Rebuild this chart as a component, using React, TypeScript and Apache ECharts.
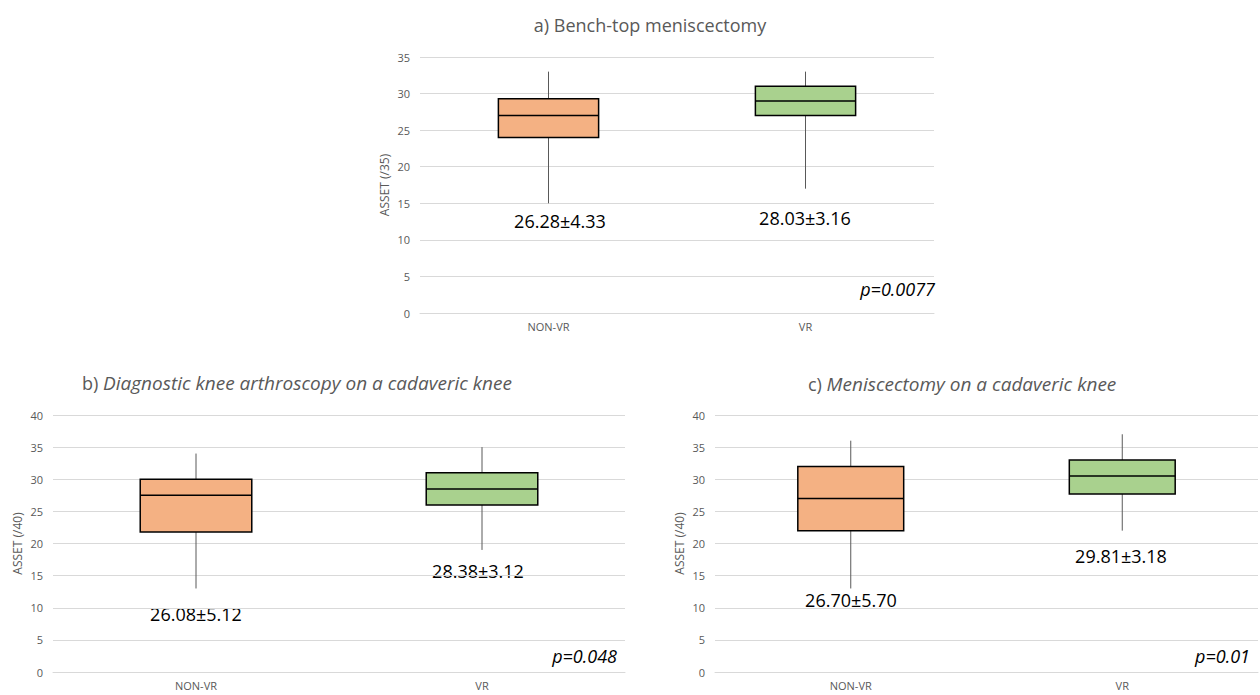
import React, { useEffect, useRef } from "react";
import * as echarts from "echarts";

const categories = ["NON-VR", "VR"];
// [min, q1, median, q3, max]
const boxA = [
  [15, 24, 27, 29.3, 33],
  [17, 27, 29, 31, 33],
];
const boxB = [
  [13, 21.8, 27.5, 30, 34],
  [19, 26, 28.5, 31, 35],
];
const boxC = [
  [13, 22, 27, 32, 36],
  [22, 27.7, 30.5, 33, 37],
];
const meanA = [26.28, 28.03];
const sdA = [4.33, 3.16];
const meanB = [26.08, 28.38];
const sdB = [5.12, 3.12];
const meanC = [26.7, 29.81];
const sdC = [5.7, 3.18];
const pValues = ["p=0.0077", "p=0.048", "p=0.01"];
const yMax = [35, 40, 40];
const yNames = ["ASSET (/35)", "ASSET (/40)", "ASSET (/40)"];
const boxColors = ["#F4B183", "#A9D18E"];

const FONT = "'Open Sans', 'Noto Sans', sans-serif";
const GRAY = "#595959";

function fmt(m: number, s: number) {
  return m.toFixed(2) + "±" + s.toFixed(2);
}

export default function App() {
  const ref = useRef<HTMLDivElement>(null);
  useEffect(() => {
    if (!ref.current) return;
    const chart = echarts.init(ref.current, undefined, { renderer: "svg" });
    const grids = [
      { left: 420, top: 57, width: 514, height: 256 },
      { left: 53, top: 415, width: 572, height: 257 },
      { left: 715, top: 415, width: 543, height: 257 },
    ];
    const nameGaps = [30, 30, 30];
    const boxes = [boxA, boxB, boxC];

    const renderItem = (params: any, api: any) => {
      const x = api.value(0);
      const lo = api.coord([x, api.value(1)]);
      const q1 = api.coord([x, api.value(2)]);
      const med = api.coord([x, api.value(3)]);
      const q3 = api.coord([x, api.value(4)]);
      const hi = api.coord([x, api.value(5)]);
      const w = api.size([1, 0])[0] * 0.39;
      return {
        type: "group",
        children: [
          {
            type: "line",
            shape: { x1: lo[0], y1: lo[1], x2: hi[0], y2: hi[1] },
            style: { stroke: GRAY, lineWidth: 1 },
          },
          {
            type: "rect",
            shape: { x: q3[0] - w / 2, y: q3[1], width: w, height: q1[1] - q3[1] },
            style: { fill: boxColors[params.dataIndex], stroke: "#000", lineWidth: 1.5 },
          },
          {
            type: "line",
            shape: { x1: med[0] - w / 2, y1: med[1], x2: med[0] + w / 2, y2: med[1] },
            style: { stroke: "#000", lineWidth: 1.5 },
          },
        ],
      };
    };

    const statTexts = [
      [fmt(meanA[0], sdA[0]), 560, 221],
      [fmt(meanA[1], sdA[1]), 805, 218],
      [fmt(meanB[0], sdB[0]), 196, 614],
      [fmt(meanB[1], sdB[1]), 478, 571],
      [fmt(meanC[0], sdC[0]), 851, 600],
      [fmt(meanC[1], sdC[1]), 1121, 556],
    ];
    const pPos = [
      [935, 289],
      [617, 656],
      [1250, 656],
    ];

    const graphic: any[] = [
      {
        type: "text",
        x: 650,
        y: 25,
        style: {
          text: "a) Bench-top meniscectomy",
          fill: GRAY,
          font: `18px ${FONT}`,
          align: "center",
          verticalAlign: "middle",
        },
      },
      {
        type: "text",
        x: 82,
        y: 383,
        style: {
          text: "{n|b) }{i|Diagnostic knee arthroscopy on a cadaveric knee}",
          rich: {
            n: { fill: GRAY, fontSize: 18, fontFamily: FONT },
            i: { fill: GRAY, fontSize: 19, fontFamily: FONT, fontStyle: "italic" },
          },
          align: "left",
          verticalAlign: "middle",
        },
      },
      {
        type: "text",
        x: 808,
        y: 384,
        style: {
          text: "{n|c) }{i|Meniscectomy on a cadaveric knee}",
          rich: {
            n: { fill: GRAY, fontSize: 18, fontFamily: FONT },
            i: { fill: GRAY, fontSize: 19, fontFamily: FONT, fontStyle: "italic" },
          },
          align: "left",
          verticalAlign: "middle",
        },
      },
      ...statTexts.map((s) => ({
        type: "text",
        x: s[1],
        y: s[2],
        style: {
          text: s[0],
          fill: "#000",
          font: `18px ${FONT}`,
          align: "center",
          verticalAlign: "middle",
        },
      })),
      ...pValues.map((p, i) => ({
        type: "text",
        x: pPos[i][0],
        y: pPos[i][1],
        style: {
          text: p,
          fill: "#000",
          font: `italic 18px ${FONT}`,
          align: "right",
          verticalAlign: "middle",
        },
      })),
    ];

    chart.setOption({
      animation: false,
      graphic,
      grid: grids,
      xAxis: grids.map((_, i) => ({
        type: "category",
        gridIndex: i,
        data: categories,
        axisLine: { show: true, lineStyle: { color: "#d9d9d9" } },
        axisTick: { show: false },
        axisLabel: { color: GRAY, fontSize: 11, fontFamily: FONT, margin: 8 },
        splitLine: { show: false },
      })),
      yAxis: grids.map((_, i) => ({
        type: "value",
        gridIndex: i,
        min: 0,
        max: yMax[i],
        interval: 5,
        name: yNames[i],
        nameLocation: "middle",
        nameRotate: 90,
        nameGap: nameGaps[i],
        nameTextStyle: { color: GRAY, fontSize: 12, fontFamily: FONT },
        axisLine: { show: false },
        axisTick: { show: false },
        axisLabel: { color: GRAY, fontSize: 11, fontFamily: FONT, margin: 10 },
        splitLine: { lineStyle: { color: "#d9d9d9" } },
      })),
      series: boxes.map((b, i) => ({
        type: "custom",
        xAxisIndex: i,
        yAxisIndex: i,
        renderItem,
        encode: { x: 0, y: [1, 2, 3, 4, 5] },
        data: b.map((row, j) => [j, ...row]),
      })),
    });
    return () => chart.dispose();
  }, []);
  return (
    <div
      ref={ref}
      style={{ position: "fixed", left: 0, top: 0, width: 1260, height: 695, background: "#fff" }}
    />
  );
}
